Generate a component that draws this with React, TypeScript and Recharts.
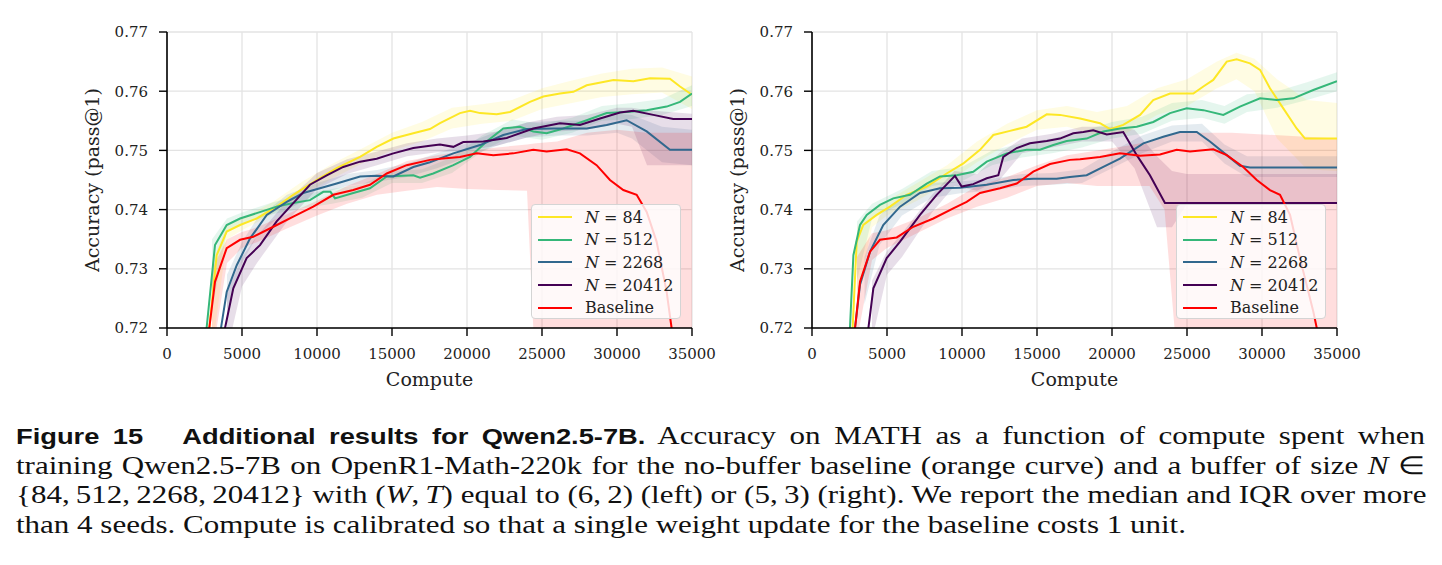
import { ComposedChart, Line, Area, XAxis, YAxis, CartesianGrid } from 'recharts';

type Pt = [number, number];
type Band = [number, number, number];

const X_TICKS = [0, 5000, 10000, 15000, 20000, 25000, 30000, 35000];
const Y_TICKS = [0.72, 0.73, 0.74, 0.75, 0.76, 0.77];
const SERIES_NAMES = ['84', '512', '2268', '20412', 'Baseline'];
const SERIES_COLORS = ['#fde725', '#35b779', '#31688e', '#440154', '#ff0000'];

// left panel, (W, T) = (6, 2): medians
const leftN84: Pt[] = [[2600, 0.705], [2820, 0.72], [3310, 0.7323], [3980, 0.7363], [4870, 0.7374], [5980, 0.7385], [7310, 0.7405], [8420, 0.7425], [9980, 0.745], [11310, 0.747], [12870, 0.7489], [13980, 0.7506], [15090, 0.752], [16420, 0.7529], [17530, 0.7536], [18200, 0.7546], [19530, 0.7563], [20200, 0.7567], [20870, 0.7563], [21980, 0.7561], [22870, 0.7565], [24200, 0.7582], [25090, 0.7591], [26200, 0.7596], [27090, 0.7599], [27980, 0.761], [29760, 0.7619], [31090, 0.7617], [32200, 0.7622], [33530, 0.7621], [34200, 0.7608], [35000, 0.7594]];
const leftN512: Pt[] = [[2450, 0.705], [2640, 0.72], [3200, 0.734], [3980, 0.7374], [4870, 0.7385], [5980, 0.7394], [7310, 0.7405], [8420, 0.7411], [9530, 0.7416], [10420, 0.743], [10900, 0.743], [11200, 0.7419], [12420, 0.7428], [13530, 0.7436], [14650, 0.7456], [16420, 0.7458], [16870, 0.7454], [17750, 0.7461], [19090, 0.7475], [20200, 0.7489], [21310, 0.7515], [22420, 0.7537], [23530, 0.754], [24420, 0.7532], [25310, 0.7529], [26420, 0.7537], [27980, 0.7551], [29310, 0.7563], [30640, 0.7565], [31980, 0.7568], [33310, 0.7574], [34200, 0.7582], [35000, 0.7596]];
const leftN2268: Pt[] = [[3300, 0.705], [3600, 0.72], [3980, 0.7261], [4650, 0.7306], [5530, 0.7351], [6650, 0.7391], [7980, 0.7413], [9090, 0.7428], [10200, 0.7436], [11310, 0.7444], [12870, 0.7456], [13980, 0.7457], [15090, 0.7456], [16420, 0.7472], [17530, 0.748], [19090, 0.7495], [20870, 0.7509], [22420, 0.7526], [23980, 0.7536], [25760, 0.7537], [27980, 0.7537], [29310, 0.7543], [30640, 0.7551], [31980, 0.7532], [33530, 0.7501], [35000, 0.7501]];
const leftN20412: Pt[] = [[3600, 0.705], [3870, 0.72], [4420, 0.7267], [5310, 0.7318], [6200, 0.734], [7310, 0.738], [8420, 0.7411], [9530, 0.7442], [10650, 0.7458], [11750, 0.7472], [12870, 0.7481], [13980, 0.7486], [15090, 0.7495], [16420, 0.7504], [17530, 0.7508], [18200, 0.751], [19090, 0.7506], [19750, 0.7514], [21090, 0.7515], [22650, 0.7521], [24420, 0.7537], [26200, 0.7546], [27530, 0.7543], [28870, 0.7554], [30200, 0.7564], [31090, 0.7567], [32420, 0.756], [33750, 0.7553], [35000, 0.7553]];
const leftBaseline: Pt[] = [[2600, 0.705], [2820, 0.72], [3200, 0.7278], [3980, 0.7335], [4870, 0.7349], [5750, 0.7354], [7090, 0.7371], [8420, 0.7388], [9750, 0.7405], [11090, 0.7425], [12420, 0.7433], [13530, 0.7442], [14650, 0.7461], [15980, 0.7475], [17530, 0.7484], [18200, 0.7486], [19530, 0.7489], [20650, 0.7495], [21750, 0.7492], [23090, 0.7495], [24420, 0.7501], [25310, 0.7498], [26650, 0.7502], [27530, 0.7495], [28640, 0.7475], [29530, 0.745], [30420, 0.7433], [31310, 0.7425], [31980, 0.7396], [32640, 0.7346], [33310, 0.7261], [33640, 0.72], [34000, 0.713]];

// left panel: IQR bands [x, q1, q3]
const leftN84Band: Band[] = [[3000, 0.716, 0.731], [4000, 0.735, 0.7375], [5000, 0.7365, 0.7385], [7000, 0.7392, 0.7412], [9000, 0.7425, 0.7447], [11000, 0.7452, 0.7477], [13000, 0.7478, 0.7503], [15000, 0.75, 0.753], [17000, 0.7515, 0.7548], [19000, 0.7537, 0.7572], [21000, 0.7545, 0.7578], [23000, 0.755, 0.7585], [25000, 0.757, 0.7605], [27000, 0.758, 0.7618], [29000, 0.759, 0.763], [31000, 0.7595, 0.7638], [33000, 0.7598, 0.764], [35000, 0.757, 0.7625]];
const leftN512Band: Band[] = [[3000, 0.723, 0.735], [4000, 0.7365, 0.7385], [5000, 0.7375, 0.7395], [7000, 0.7392, 0.7412], [9000, 0.7402, 0.7425], [11000, 0.741, 0.7435], [13000, 0.742, 0.7443], [15000, 0.7445, 0.7465], [17000, 0.7445, 0.7468], [19000, 0.7462, 0.7488], [21000, 0.7498, 0.7525], [23000, 0.7525, 0.7552], [25000, 0.7518, 0.7545], [27000, 0.753, 0.7555], [29000, 0.755, 0.7575], [31000, 0.7553, 0.758], [33000, 0.756, 0.7587], [35000, 0.7575, 0.761]];
const leftN2268Band: Band[] = [[4000, 0.723, 0.729], [5000, 0.731, 0.7345], [6000, 0.7355, 0.7385], [8000, 0.74, 0.7425], [10000, 0.7425, 0.7445], [12000, 0.744, 0.746], [14000, 0.7447, 0.7467], [16000, 0.7455, 0.7478], [18000, 0.747, 0.7495], [20000, 0.7488, 0.7512], [22000, 0.7508, 0.7532], [24000, 0.7522, 0.7547], [26000, 0.7525, 0.755], [28000, 0.7525, 0.755], [30000, 0.753, 0.7562], [31000, 0.752, 0.756], [33000, 0.748, 0.754], [35000, 0.7475, 0.7535]];
const leftN20412Band: Band[] = [[4000, 0.716, 0.726], [5000, 0.727, 0.732], [6000, 0.731, 0.7355], [8000, 0.738, 0.7415], [10000, 0.7435, 0.7462], [12000, 0.746, 0.7485], [14000, 0.7475, 0.7498], [16000, 0.749, 0.7512], [18000, 0.7497, 0.752], [20000, 0.75, 0.7525], [22000, 0.7508, 0.7532], [24000, 0.7522, 0.7547], [26000, 0.7532, 0.7557], [28000, 0.7535, 0.756], [30000, 0.7545, 0.7572], [31000, 0.754, 0.7572], [32000, 0.7475, 0.7568], [35000, 0.7475, 0.7562]];
const leftBaselineBand: Band[] = [[3000, 0.715, 0.73], [4000, 0.731, 0.735], [5000, 0.7335, 0.7362], [6000, 0.7345, 0.737], [8000, 0.7368, 0.7392], [10000, 0.739, 0.7415], [12000, 0.741, 0.744], [14000, 0.7425, 0.746], [16000, 0.7432, 0.7482], [18000, 0.7438, 0.7492], [20000, 0.7435, 0.75], [22000, 0.7433, 0.7505], [24000, 0.7432, 0.751], [24600, 0.71, 0.7512], [26000, 0.71, 0.7515], [28000, 0.71, 0.753], [30000, 0.71, 0.7535], [32000, 0.71, 0.753], [35000, 0.71, 0.753]];

// right panel, (W, T) = (5, 3): medians
const rightN84: Pt[] = [[2500, 0.705], [2710, 0.72], [2980, 0.7346], [3420, 0.7374], [4310, 0.7391], [5200, 0.7405], [6310, 0.7425], [7650, 0.7439], [8980, 0.7461], [10090, 0.7478], [11200, 0.7501], [12090, 0.7526], [13200, 0.7533], [14310, 0.754], [15650, 0.7561], [16530, 0.756], [17870, 0.7554], [19200, 0.7546], [19870, 0.7536], [20750, 0.7543], [21870, 0.756], [22750, 0.7585], [23870, 0.7596], [25420, 0.7596], [26090, 0.7608], [26750, 0.7619], [27650, 0.765], [28310, 0.7654], [29200, 0.7647], [29870, 0.7636], [30530, 0.7605], [31420, 0.7571], [32310, 0.7537], [32870, 0.752], [35000, 0.752]];
const rightN512: Pt[] = [[2350, 0.705], [2530, 0.72], [2760, 0.7323], [3200, 0.7374], [3650, 0.7391], [4530, 0.7408], [5420, 0.7419], [6530, 0.7425], [7650, 0.7444], [8530, 0.7456], [9650, 0.7458], [10750, 0.7464], [11650, 0.7481], [12980, 0.7495], [14310, 0.7501], [15200, 0.7501], [16090, 0.7509], [16980, 0.7516], [18310, 0.752], [19420, 0.7532], [20530, 0.7537], [21650, 0.754], [22750, 0.7548], [23870, 0.7563], [24980, 0.7571], [26090, 0.7568], [27420, 0.756], [28530, 0.7574], [29870, 0.7588], [30980, 0.7585], [32090, 0.7588], [33420, 0.7602], [35000, 0.7617]];
const rightN2268: Pt[] = [[2650, 0.705], [2870, 0.72], [3200, 0.7273], [3870, 0.7329], [4750, 0.7374], [5870, 0.7405], [7200, 0.7428], [8530, 0.7436], [9870, 0.7437], [11650, 0.7442], [13420, 0.745], [14750, 0.7452], [16310, 0.7452], [17200, 0.7455], [18310, 0.7458], [19420, 0.7472], [20530, 0.7486], [22090, 0.7512], [23420, 0.7523], [24530, 0.7531], [25650, 0.7531], [26530, 0.7515], [27650, 0.7492], [28530, 0.7474], [29200, 0.7471], [35000, 0.7471]];
const rightN20412: Pt[] = [[3550, 0.705], [3760, 0.72], [4090, 0.7267], [4980, 0.7318], [5870, 0.7346], [7200, 0.7391], [8310, 0.7425], [9530, 0.7457], [9980, 0.7439], [10750, 0.7443], [11650, 0.7453], [12420, 0.7458], [12750, 0.7489], [13650, 0.7504], [14530, 0.7512], [15650, 0.7516], [16530, 0.752], [17420, 0.7529], [18090, 0.7531], [18750, 0.7534], [19650, 0.7527], [20750, 0.7531], [21650, 0.7492], [22530, 0.7458], [23530, 0.7411], [35000, 0.7411]];
const rightBaseline: Pt[] = [[2650, 0.705], [2870, 0.72], [3200, 0.7278], [3870, 0.7329], [4530, 0.7349], [5650, 0.7353], [6750, 0.7371], [8090, 0.7385], [9420, 0.7402], [10310, 0.7413], [11200, 0.7428], [12530, 0.7436], [13650, 0.7444], [14750, 0.7464], [15870, 0.7477], [17200, 0.7484], [17870, 0.7485], [19200, 0.7489], [20530, 0.7495], [21870, 0.7491], [23200, 0.7493], [24310, 0.7501], [25200, 0.7498], [26750, 0.7502], [27650, 0.7492], [28750, 0.7472], [29650, 0.745], [30530, 0.7433], [31200, 0.7425], [31870, 0.7391], [32530, 0.7318], [33420, 0.7228], [33650, 0.72], [34000, 0.713]];

// right panel: IQR bands
const rightN84Band: Band[] = [[3000, 0.725, 0.737], [4000, 0.737, 0.7395], [5000, 0.739, 0.7415], [7000, 0.7415, 0.7445], [9000, 0.7445, 0.7475], [11000, 0.748, 0.7515], [13000, 0.751, 0.7545], [15000, 0.7535, 0.7568], [17000, 0.754, 0.7575], [19000, 0.7525, 0.7565], [21000, 0.753, 0.7575], [23000, 0.756, 0.7605], [25000, 0.7575, 0.762], [27000, 0.7605, 0.765], [28300, 0.762, 0.7665], [29500, 0.76, 0.7655], [31000, 0.752, 0.762], [33000, 0.7468, 0.7585], [35000, 0.7465, 0.758]];
const rightN512Band: Band[] = [[3000, 0.728, 0.738], [4000, 0.7385, 0.741], [6000, 0.741, 0.7435], [8000, 0.744, 0.7465], [10000, 0.7448, 0.7472], [12000, 0.7475, 0.75], [14000, 0.7488, 0.7512], [16000, 0.7495, 0.752], [18000, 0.7505, 0.7532], [20000, 0.752, 0.7548], [22000, 0.7528, 0.7557], [24000, 0.755, 0.758], [26000, 0.7555, 0.7585], [27500, 0.7545, 0.7575], [29000, 0.7565, 0.7595], [31000, 0.7572, 0.76], [33000, 0.7585, 0.7615], [35000, 0.76, 0.7632]];
const rightN2268Band: Band[] = [[3500, 0.724, 0.732], [4500, 0.734, 0.739], [6000, 0.739, 0.742], [8000, 0.742, 0.7445], [10000, 0.7428, 0.7448], [12000, 0.7432, 0.7452], [14000, 0.744, 0.746], [16000, 0.7442, 0.7462], [18000, 0.7445, 0.7468], [20000, 0.747, 0.7498], [22000, 0.7495, 0.7525], [24000, 0.7515, 0.7542], [26000, 0.7515, 0.7545], [27500, 0.7478, 0.751], [29000, 0.7455, 0.749], [35000, 0.7455, 0.749]];
const rightN20412Band: Band[] = [[4000, 0.718, 0.728], [5000, 0.729, 0.733], [6000, 0.732, 0.736], [8000, 0.7395, 0.7425], [9500, 0.744, 0.7465], [11000, 0.7432, 0.746], [12500, 0.745, 0.7495], [14000, 0.7495, 0.752], [16000, 0.7505, 0.7528], [18000, 0.7515, 0.754], [20000, 0.7515, 0.754], [21500, 0.747, 0.7535], [23000, 0.737, 0.749], [24000, 0.737, 0.7465], [25000, 0.741, 0.746], [35000, 0.741, 0.746]];
const rightBaselineBand: Band[] = [[3000, 0.718, 0.732], [4000, 0.7315, 0.736], [5000, 0.7335, 0.7365], [7000, 0.736, 0.7385], [9000, 0.7385, 0.741], [11000, 0.7405, 0.744], [13000, 0.742, 0.7455], [15000, 0.744, 0.7475], [17000, 0.7445, 0.7492], [19000, 0.744, 0.75], [21000, 0.744, 0.7508], [22500, 0.744, 0.7515], [23500, 0.74, 0.7525], [24500, 0.71, 0.753], [28000, 0.71, 0.753], [35000, 0.71, 0.752]];

const FONT = '"DejaVu Serif", serif';
const INK = '#222';
const CHART_H = 400;
const PLOT_TOP = 32;
const PLOT_BOTTOM = 328;
const Y_AXIS_W = 80;
const X_AXIS_H = 59;

interface PanelProps {
  left: number;
  width: number;
  plotLeft: number;
  plotRight: number;
  lines: Pt[][];
  bands: Band[][];
}

function Legend({ plotRight }: { plotRight: number }) {
  return (
    <div
      style={{
        position: 'absolute',
        left: plotRight - 161,
        top: 204,
        width: 150,
        height: 115,
        boxSizing: 'border-box',
        border: '1.5px solid #d4d4d4',
        borderRadius: 4,
        background: 'rgba(255,255,255,0.82)',
        fontFamily: FONT,
        fontSize: 16,
        color: INK,
        paddingTop: 1,
      }}
    >
      {SERIES_NAMES.map((name, i) => (
        <div key={name} style={{ display: 'flex', alignItems: 'center', height: 22.6 }}>
          <span style={{ display: 'inline-block', width: 34, height: 2, background: SERIES_COLORS[i], marginLeft: 6, marginRight: 13 }} />
          {name === 'Baseline' ? (
            <span>Baseline</span>
          ) : (
            <span>
              <i>N</i>&nbsp;=&nbsp;{name}
            </span>
          )}
        </div>
      ))}
    </div>
  );
}

function Panel({ left, width, plotLeft, plotRight, lines, bands }: PanelProps) {
  const axisLine = { stroke: '#000', strokeWidth: 1.6 };
  const tickLine = { stroke: '#000', strokeWidth: 1.4 };
  const tickStyle = { fill: INK, fontSize: 15, fontFamily: FONT };
  return (
    <div style={{ position: 'absolute', left, top: 0, width, height: CHART_H }}>
      <ComposedChart
        width={width}
        height={CHART_H}
        margin={{ top: PLOT_TOP, right: width - plotRight, bottom: CHART_H - PLOT_BOTTOM - X_AXIS_H, left: plotLeft - Y_AXIS_W }}
      >
        <CartesianGrid stroke="#e3e3e3" strokeWidth={1.3} />
        <XAxis
          type="number"
          dataKey="x"
          domain={[0, 35000]}
          ticks={X_TICKS}
          interval={0}
          allowDataOverflow
          height={X_AXIS_H}
          tickSize={8}
          tickMargin={12}
          axisLine={axisLine}
          tickLine={tickLine}
          tick={tickStyle}
          label={{ value: 'Compute', position: 'insideBottom', offset: 1, fill: INK, fontSize: 19, fontFamily: FONT }}
        />
        <XAxis xAxisId="top" type="number" orientation="top" domain={[0, 35000]} height={0} tick={false} tickLine={false} axisLine={axisLine} />
        <YAxis
          type="number"
          domain={[0.72, 0.77]}
          ticks={Y_TICKS}
          interval={0}
          allowDataOverflow
          width={Y_AXIS_W}
          tickSize={8}
          tickMargin={11}
          axisLine={axisLine}
          tickLine={tickLine}
          tick={tickStyle}
          tickFormatter={(v: number) => v.toFixed(2)}
          label={{ value: 'Accuracy (pass@1)', angle: -90, position: 'insideLeft', offset: 5, fill: INK, fontSize: 19, fontFamily: FONT, style: { textAnchor: 'middle' } }}
        />
        <YAxis yAxisId="right" type="number" orientation="right" domain={[0.72, 0.77]} width={0} tick={false} tickLine={false} axisLine={axisLine} />
        {bands.map((band, i) => (
          <Area
            key={`band-${i}`}
            data={band.map(([x, lo, hi]) => ({ x, iqr: [lo, hi] }))}
            dataKey="iqr"
            type="linear"
            stroke="none"
            fill={SERIES_COLORS[i]}
            fillOpacity={0.13}
            isAnimationActive={false}
          />
        ))}
        {lines.map((pts, i) => (
          <Line
            key={`line-${i}`}
            data={pts.map(([x, y]) => ({ x, y }))}
            dataKey="y"
            type="linear"
            stroke={SERIES_COLORS[i]}
            strokeWidth={2}
            dot={false}
            isAnimationActive={false}
          />
        ))}
      </ComposedChart>
      <Legend plotRight={plotRight} />
    </div>
  );
}

const CAPTION_SCALE = 1.24;
const lineStyle = { textAlign: 'justify' as const, textAlignLast: 'justify' as const, whiteSpace: 'nowrap' as const, height: 29.5 };

export default function App() {
  return (
    <div style={{ position: 'absolute', left: 0, top: 0, width: 1442, height: 565, background: '#fff', overflow: 'hidden' }}>
      <Panel
        left={0}
        width={730}
        plotLeft={167}
        plotRight={692}
        lines={[leftN84, leftN512, leftN2268, leftN20412, leftBaseline]}
        bands={[leftN84Band, leftN512Band, leftN2268Band, leftN20412Band, leftBaselineBand]}
      />
      <Panel
        left={700}
        width={742}
        plotLeft={112}
        plotRight={637}
        lines={[rightN84, rightN512, rightN2268, rightN20412, rightBaseline]}
        bands={[rightN84Band, rightN512Band, rightN2268Band, rightN20412Band, rightBaselineBand]}
      />
      <div
        style={{
          position: 'absolute',
          left: 16,
          top: 421,
          width: 1409 / CAPTION_SCALE,
          transform: `scaleX(${CAPTION_SCALE})`,
          transformOrigin: 'left top',
          fontFamily: '"Liberation Serif", serif',
          fontSize: 25,
          lineHeight: '29.5px',
          color: '#111',
        }}
      >
        <div style={lineStyle}>
          <b style={{ fontFamily: '"Liberation Sans", sans-serif', fontSize: 22 }}>Figure 15&nbsp;&nbsp; Additional results for Qwen2.5-7B.</b> Accuracy on MATH as a function of compute spent when
        </div>
        <div style={lineStyle}>
          training Qwen2.5-7B on OpenR1-Math-220k for the no-buffer baseline (orange curve) and a buffer of size <i>N</i> ∈
        </div>
        <div style={lineStyle}>
          {'{84,\u2009512,\u20092268,\u200920412}'} with (<i>W</i>,{'\u2009'}<i>T</i>) equal to (6,{'\u2009'}2) (left) or (5,{'\u2009'}3) (right). We report the median and IQR over more
        </div>
        <div style={{ height: 29.5, whiteSpace: 'nowrap' }}>
          than 4 seeds. Compute is calibrated so that a single weight update for the baseline costs 1 unit.
        </div>
      </div>
    </div>
  );
}
